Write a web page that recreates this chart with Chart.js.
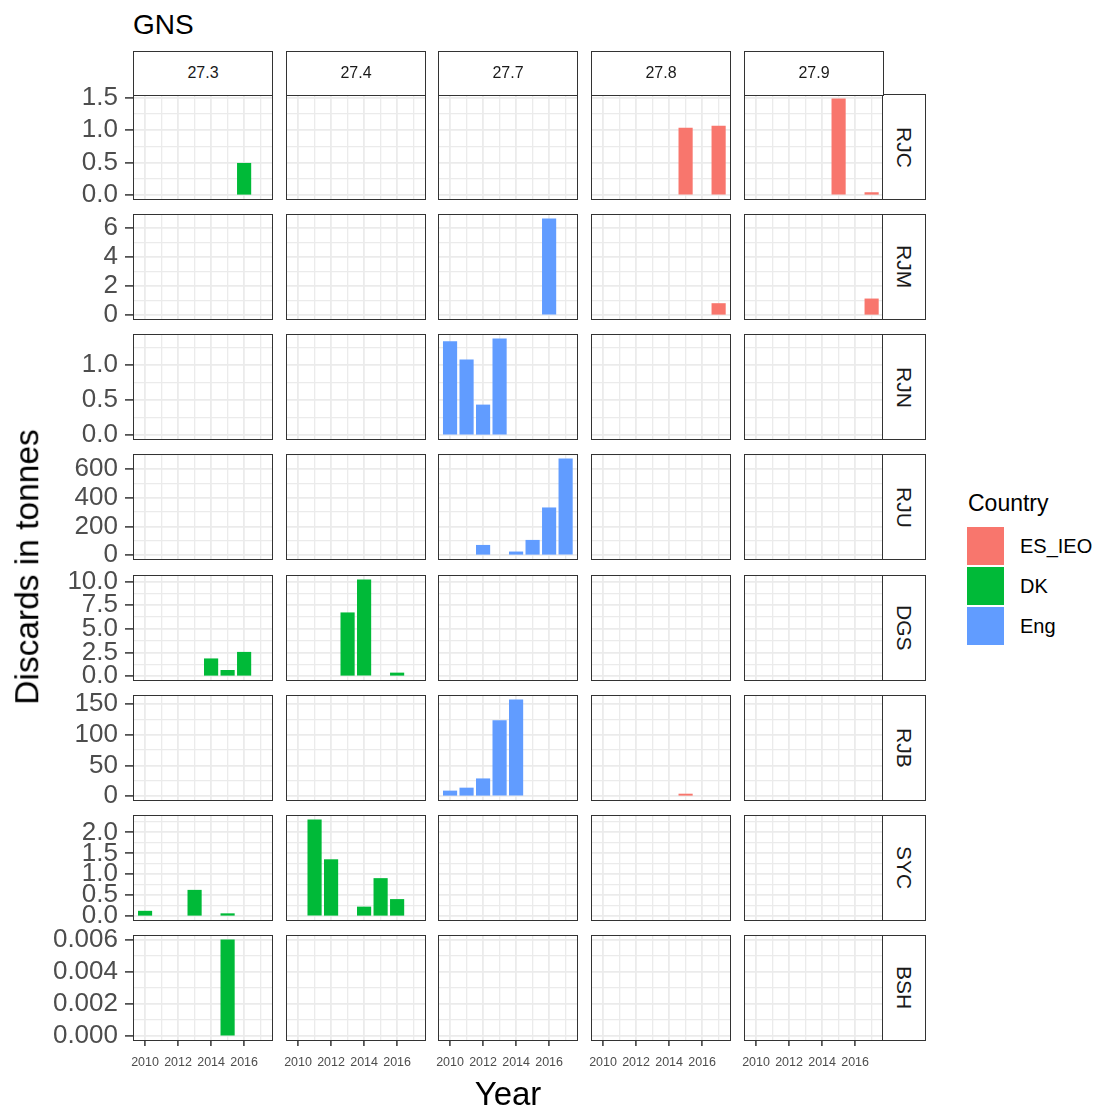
<!DOCTYPE html>
<html>
<head>
<meta charset="utf-8">
<script src="https://cdn.jsdelivr.net/npm/chart.js@4.4.1/dist/chart.umd.min.js"></script>
<style>
body{margin:0;background:#fff;font-family:"Liberation Sans",Arial,sans-serif}
#wrap{position:relative;width:1103px;height:1110px;overflow:hidden}
.box{position:absolute;box-sizing:border-box;border:1.6px solid #333;pointer-events:none}
.strip{position:absolute;box-sizing:border-box;border:1.6px solid #333;background:#fff;display:flex;align-items:center;justify-content:center;color:#1a1a1a}
.txt{position:absolute;white-space:nowrap;line-height:1}
</style>
</head>
<body>
<div id="wrap"></div>
<script>
/* DATOS */

const years=[2010,2011,2012,2013,2014,2015,2016,2017]
const yearTicks=["2010","2012","2014","2016"]
const areas=["27.3","27.4","27.7","27.8","27.9"]
const species=["RJC","RJM","RJN","RJU","DGS","RJB","SYC","BSH"]
const countries=["ES_IEO","DK","Eng"]

// one row per area (27.3 .. 27.9), one value per year, null = no bar
const rjc=[
[null,null,null,null,null,null,0.49,null],
[null,null,null,null,null,null,null,null],
[null,null,null,null,null,null,null,null],
[null,null,null,null,null,1.03,null,1.06],
[null,null,null,null,null,1.48,null,0.04]
]
const rjcCountry=["DK",null,null,"ES_IEO","ES_IEO"]
const rjcTicks=["0.0","0.5","1.0","1.5"]

const rjm=[
[null,null,null,null,null,null,null,null],
[null,null,null,null,null,null,null,null],
[null,null,null,null,null,null,6.62,null],
[null,null,null,null,null,null,null,0.8],
[null,null,null,null,null,null,null,1.12]
]
const rjmCountry=[null,null,"Eng","ES_IEO","ES_IEO"]
const rjmTicks=["0","2","4","6"]

const rjn=[
[null,null,null,null,null,null,null,null],
[null,null,null,null,null,null,null,null],
[1.33,1.07,0.43,1.37,null,null,null,null],
[null,null,null,null,null,null,null,null],
[null,null,null,null,null,null,null,null]
]
const rjnCountry=[null,null,"Eng",null,null]
const rjnTicks=["0.0","0.5","1.0"]

const rju=[
[null,null,null,null,null,null,null,null],
[null,null,null,null,null,null,null,null],
[null,null,69,null,23,104,330,671],
[null,null,null,null,null,null,null,null],
[null,null,null,null,null,null,null,null]
]
const rjuCountry=[null,null,"Eng",null,null]
const rjuTicks=["0","200","400","600"]

const dgs=[
[null,null,null,null,1.84,0.62,2.53,null],
[null,null,null,6.7,10.18,null,0.34,null],
[null,null,null,null,null,null,null,null],
[null,null,null,null,null,null,null,null],
[null,null,null,null,null,null,null,null]
]
const dgsCountry=["DK","DK",null,null,null]
const dgsTicks=["0.0","2.5","5.0","7.5","10.0"]

const rjb=[
[null,null,null,null,null,null,null,null],
[null,null,null,null,null,null,null,null],
[8.5,13.3,28.3,123,156.6,null,null,null],
[null,null,null,null,null,3.5,null,null],
[null,null,null,null,null,null,null,null]
]
const rjbCountry=[null,null,"Eng","ES_IEO",null]
const rjbTicks=["0","50","100","150"]

const syc=[
[0.12,null,null,0.62,null,0.06,null,null],
[null,2.30,1.35,null,0.22,0.90,0.40,null],
[null,null,null,null,null,null,null,null],
[null,null,null,null,null,null,null,null],
[null,null,null,null,null,null,null,null]
]
const sycCountry=["DK","DK",null,null,null]
const sycTicks=["0.0","0.5","1.0","1.5","2.0"]

const bsh=[
[null,null,null,null,null,0.006,null,null],
[null,null,null,null,null,null,null,null],
[null,null,null,null,null,null,null,null],
[null,null,null,null,null,null,null,null],
[null,null,null,null,null,null,null,null]
]
const bshCountry=["DK",null,null,null,null]
const bshTicks=["0.000","0.002","0.004","0.006"]

/* TABLA PARA LAS FILAS */

const rows=[
{values:rjc,country:rjcCountry,ticks:rjcTicks},
{values:rjm,country:rjmCountry,ticks:rjmTicks},
{values:rjn,country:rjnCountry,ticks:rjnTicks},
{values:rju,country:rjuCountry,ticks:rjuTicks},
{values:dgs,country:dgsCountry,ticks:dgsTicks},
{values:rjb,country:rjbCountry,ticks:rjbTicks},
{values:syc,country:sycCountry,ticks:sycTicks},
{values:bsh,country:bshCountry,ticks:bshTicks}
]

const colors={"ES_IEO":"#F8766D","DK":"#00BA38","Eng":"#619CFF"}

/* LAYOUT */

const colLeft=[133,286,438,591,744]
const panelW=140
const rowTop=[94,214,334,454,575,695,815,935]
const panelH=106
const xMin=2009.27, xMax=2017.75

Chart.defaults.font.family='"Liberation Sans", Arial, sans-serif'

const wrap=document.getElementById("wrap")

function add(cls,css,text){
const d=document.createElement("div")
d.className=cls
d.style.cssText=css
if(text!==undefined) d.textContent=text
wrap.appendChild(d)
return d
}

/* PANELES */

rows.forEach((row,r)=>{

const all=row.values.flat().filter(v=>v!==null)
const m=Math.max(...all)
const yMin=-m*0.05, yMax=m*1.05

const majors=row.ticks.map(Number)
const step=majors[1]-majors[0]
let yt=[...majors]
yt.push(majors[0]-step/2)
for(let i=0;i<majors.length;i++) yt.push(majors[i]+step/2)
yt=yt.filter(v=>v>=yMin&&v<=yMax).sort((a,b)=>a-b)
const isMajor=v=>majors.some(t=>Math.abs(t-v)<step*1e-3)

areas.forEach((a,c)=>{

const first=c===0
const last=r===rows.length-1
// room round the panel so tick labels are not clipped or pad the chart area
const padL=first?93:(last?30:0)
const padT=first?26:0
const padB=first&&!last?26:0
const axisH=last?34:0

const cv=document.createElement("canvas")
cv.width=panelW+padL
cv.height=panelH+padT+padB+axisH
cv.style.cssText=`position:absolute;left:${colLeft[c]-padL}px;top:${rowTop[r]-padT}px`
wrap.appendChild(cv)

const pts=[]
row.values[c].forEach((v,i)=>{ if(v!==null) pts.push({x:years[i],y:v}) })

new Chart(cv,{
type:"bar",
data:{datasets:[{
data:pts,
backgroundColor:row.country[c]?colors[row.country[c]]:"#999",
borderWidth:0,
barThickness:13.5
}]},
options:{
responsive:false,
animation:false,
layout:{autoPadding:false,padding:{left:0,right:0,top:padT,bottom:padB}},
plugins:{legend:{display:false},tooltip:{enabled:false}},
scales:{
x:{
type:"linear",min:xMin,max:xMax,offset:false,bounds:"data",
afterBuildTicks:s=>{s.ticks=years.map(v=>({value:v}))},
afterFit:s=>{s.height=axisH},
border:{display:false},
grid:{
offset:false,
color:"#EBEBEB",
lineWidth:ctx=>ctx.tick&&ctx.tick.value%2===0?1.8:1.3,
drawTicks:last,
tickLength:5,
tickWidth:1.5,
tickColor:ctx=>ctx.tick&&ctx.tick.value%2===0?"#333":"rgba(0,0,0,0)"
},
ticks:{
display:last,autoSkip:false,maxRotation:0,minRotation:0,padding:9,
color:"#4D4D4D",font:{size:12.5},
callback:v=>yearTicks.includes(String(v))?String(v):""
}
},
y:{
type:"linear",min:yMin,max:yMax,bounds:"data",
afterBuildTicks:s=>{s.ticks=yt.map(v=>({value:v}))},
afterFit:s=>{s.width=padL},
border:{display:false},
grid:{
color:"#EBEBEB",
lineWidth:ctx=>ctx.tick&&isMajor(ctx.tick.value)?1.8:1.3,
drawTicks:first,
tickLength:8,
tickWidth:1.5,
tickColor:ctx=>ctx.tick&&isMajor(ctx.tick.value)?"#333":"rgba(0,0,0,0)"
},
ticks:{
display:first,autoSkip:false,padding:7,
color:"#4D4D4D",font:{size:26},
callback:v=>{
const i=majors.findIndex(t=>Math.abs(t-v)<step*1e-3)
return i<0?"":row.ticks[i]
}
}
}
}
}
})

})

})

/* BORDES Y TIRAS */

rows.forEach((row,r)=>{
colLeft.forEach(x=>{
add("box",`left:${x}px;top:${rowTop[r]}px;width:${panelW}px;height:${panelH}px`)
})
add("strip",`left:${colLeft[4]+panelW-1.6}px;top:${rowTop[r]}px;width:44px;height:${panelH}px;font-size:21px;writing-mode:vertical-rl`,species[r])
})

areas.forEach((a,c)=>{
add("strip",`left:${colLeft[c]}px;top:51px;width:${panelW}px;height:44.6px;font-size:16px`,a)
})

/* TEXTOS */

add("txt","left:133px;top:11px;font-size:28px;color:#000","GNS")
add("txt","left:508px;top:1077px;font-size:33px;color:#000;transform:translateX(-50%)","Year")
add("txt","left:27px;top:567px;font-size:33.5px;color:#000;transform:translate(-50%,-50%) rotate(-90deg)","Discards in tonnes")

/* LEYENDA */

add("txt","left:968px;top:492px;font-size:23px;color:#000","Country")

countries.forEach((k,i)=>{
const top=527+i*40
add("txt",`left:967px;top:${top}px;width:37px;height:38px;background:${colors[k]}`)
add("txt",`left:1020px;top:${top}px;height:38px;display:flex;align-items:center;font-size:20px;color:#000`,k)
})
</script>
</body>
</html>
